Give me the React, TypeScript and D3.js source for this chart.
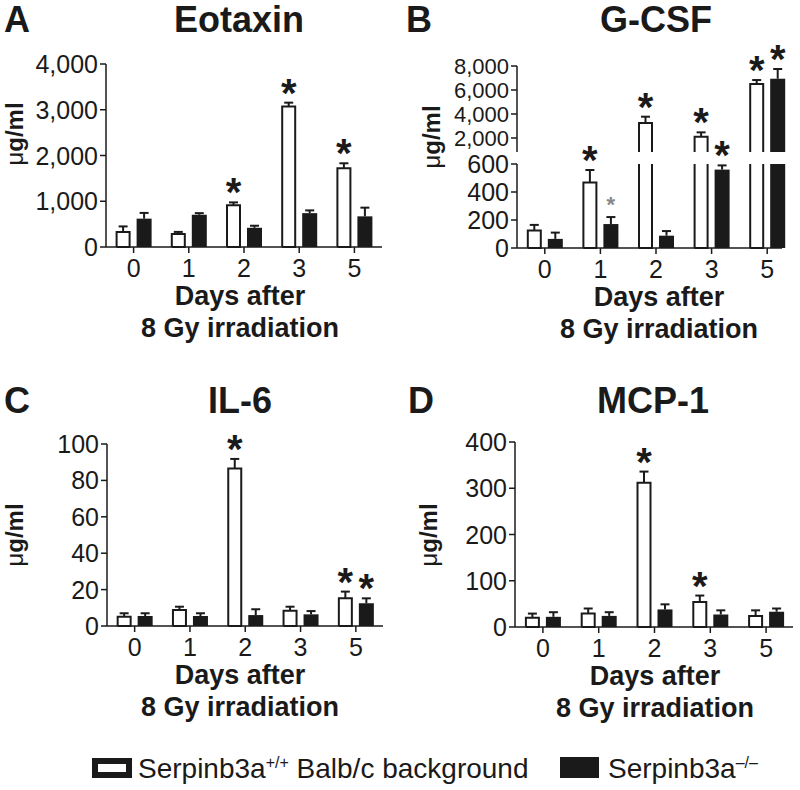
import React from "react";
import * as d3 from "d3";

const FONT = "'Liberation Sans', Arial, Helvetica, sans-serif";
const INK = "#1a1a1a";

const days = ["0", "1", "2", "3", "5"];

// Panel A – Eotaxin
const eotaxinWT = [330, 285, 910, 3070, 1720];
const eotaxinWTErr = [120, 45, 65, 85, 110];
const eotaxinKO = [620, 705, 420, 740, 670];
const eotaxinKOErr = [125, 35, 45, 60, 190];
const eotaxinStarWT = [0, 0, 1, 1, 1];
const eotaxinStarKO = [0, 0, 0, 0, 0];
const eotaxinTicks = [0, 1000, 2000, 3000, 4000];

// Panel B – G-CSF (broken axis)
const gcsfWT = [125, 467, 3250, 2110, 6500];
const gcsfWTErr = [40, 90, 525, 360, 330];
const gcsfKO = [65, 171, 88, 560, 6940];
const gcsfKOErr = [45, 50, 33, 30, 810];
const gcsfStarWT = [0, 1, 1, 1, 1];
const gcsfStarKO = [0, 2, 0, 1, 1];
const gcsfLowTicks = [0, 200, 400, 600];
const gcsfHighTicks = [2000, 4000, 6000, 8000];

// Panel C – IL-6
const il6WT = [5.1, 8.8, 86.6, 8.4, 15.2];
const il6WTErr = [1.9, 1.8, 5.2, 2.2, 3.7];
const il6KO = [5.5, 5.5, 6, 6.4, 12.5];
const il6KOErr = [1.5, 1.5, 3.2, 1.8, 2.7];
const il6StarWT = [0, 0, 1, 0, 1];
const il6StarKO = [0, 0, 0, 0, 1];
const il6Ticks = [0, 20, 40, 60, 80, 100];

// Panel D – MCP-1
const mcpWT = [20, 29, 312, 54, 24];
const mcpWTErr = [9, 11, 24, 14, 12];
const mcpKO = [22, 24, 38, 27, 33];
const mcpKOErr = [10, 8, 11, 9, 7];
const mcpStarWT = [0, 0, 1, 1, 0];
const mcpStarKO = [0, 0, 0, 0, 0];
const mcpTicks = [0, 100, 200, 300, 400];

const legendWT = "Serpinb3a";
const legendWTSup = "+/+";
const legendWTRest = " Balb/c background";
const legendKO = "Serpinb3a";
const legendKOSup = "\u2013/\u2013";

const fmt = d3.format(",");

type Seg = { scale: d3.ScaleLinear<number, number>; lo: number; hi: number; yLo: number; yHi: number; ticks: number[]; fs?: number };

type PanelProps = {
  letter: string;
  title: string;
  axisX: number;
  axisEnd: number;
  bandEnd: number;
  y0: number;
  segs: Seg[];
  wt: number[]; wtErr: number[]; ko: number[]; koErr: number[];
  starWT: number[]; starKO: number[];
  letterX: number; titleX: number; titleY: number;
  ylabX: number; ylabY: number; xlabX: number;
};

function segFor(segs: Seg[], v: number): Seg {
  for (const s of segs) if (v >= s.lo && v <= s.hi) return s;
  return segs[segs.length - 1];
}

function Panel(p: PanelProps) {
  const x = d3.scaleBand<string>().domain(days).range([p.axisX, p.bandEnd]).padding(0);
  const bw = 15;
  const off = 10.5;
  const els: React.ReactNode[] = [];

  const drawBar = (cx: number, v: number, e: number, filled: boolean, star: number, key: string) => {
    const left = cx - bw / 2;
    const right = cx + bw / 2;
    p.segs.forEach((s, si) => {
      if (v <= s.lo && si > 0) return;
      const topV = Math.min(v, s.hi);
      const yTop = s.scale(topV);
      const yBot = s.yLo;
      const closedTop = v <= s.hi;
      const closedBot = si === 0;
      if (filled) {
        els.push(<rect key={`${key}-b${si}`} x={left} y={yTop} width={bw} height={yBot - yTop} fill={INK} />);
      } else {
        const l = left + 1, r = right - 1;
        let d = `M${l},${yBot}L${l},${yTop}`;
        if (closedTop) d += `L${r},${yTop}`; else d += `M${r},${yTop}`;
        d += `L${r},${yBot}`;
        if (closedBot) d += `L${l},${yBot}`;
        els.push(<path key={`${key}-b${si}`} d={d} fill="#fff" stroke={INK} strokeWidth={2} />);
      }
    });
    const s = segFor(p.segs, v);
    const yv = s.scale(v);
    const ye = s.scale(v + e);
    els.push(<line key={`${key}-e`} x1={cx} x2={cx} y1={yv} y2={ye} stroke={INK} strokeWidth={2} />);
    els.push(<line key={`${key}-c`} x1={cx - 4.5} x2={cx + 4.5} y1={ye} y2={ye} stroke={INK} strokeWidth={2} />);
    if (star === 1) {
      els.push(<text key={`${key}-s`} x={cx} y={ye + 4} textAnchor="middle" fontSize={40} fontWeight="bold" fontFamily={FONT} fill={INK}>*</text>);
    } else if (star === 2) {
      els.push(<text key={`${key}-s`} x={cx} y={ye - 5} textAnchor="middle" fontSize={22} fontWeight="bold" fontFamily={FONT} fill="#888">*</text>);
    }
  };

  days.forEach((d, i) => {
    const c = (x(d) as number) + x.bandwidth() / 2;
    drawBar(c - off, p.wt[i], p.wtErr[i], false, p.starWT[i], `w${i}`);
    drawBar(c + off, p.ko[i], p.koErr[i], true, p.starKO[i], `k${i}`);
  });

  return (
    <g>
      <text x={p.letterX} y={p.titleY} fontSize={36} fontWeight="bold" fontFamily={FONT} fill={INK}>{p.letter}</text>
      <text x={p.titleX} y={p.titleY} textAnchor="middle" fontSize={36} fontWeight="bold" fontFamily={FONT} fill={INK}>{p.title}</text>
      {p.segs.map((s, si) => (
        <g key={`ax${si}`}>
          <line x1={p.axisX} x2={p.axisX} y1={s.yLo} y2={s.yHi} stroke={INK} strokeWidth={1.5} />
          {s.ticks.map((t) => (
            <g key={t}>
              <line x1={p.axisX - 6} x2={p.axisX} y1={s.scale(t)} y2={s.scale(t)} stroke={INK} strokeWidth={1.5} />
              <text x={p.axisX - 8} y={s.scale(t)} dy="0.36em" textAnchor="end" fontSize={s.fs ?? 25} fontFamily={FONT} fill={INK}>{fmt(t)}</text>
            </g>
          ))}
        </g>
      ))}
      <line x1={p.axisX} x2={p.axisEnd} y1={p.y0} y2={p.y0} stroke={INK} strokeWidth={1.5} />
      {days.map((d) => {
        const c = (x(d) as number) + x.bandwidth() / 2;
        return (
          <g key={`xt${d}`}>
            <line x1={c} x2={c} y1={p.y0} y2={p.y0 + 6} stroke={INK} strokeWidth={1.5} />
            <text x={c} y={p.y0 + 30} textAnchor="middle" fontSize={25} fontFamily={FONT} fill={INK}>{d}</text>
          </g>
        );
      })}
      {els}
      <text x={p.xlabX} y={p.y0 + 58} textAnchor="middle" fontSize={27} fontWeight="bold" fontFamily={FONT} fill={INK}>Days after</text>
      <text x={p.xlabX} y={p.y0 + 90} textAnchor="middle" fontSize={27} fontWeight="bold" fontFamily={FONT} fill={INK}>8 Gy irradiation</text>
      <text transform={`translate(${p.ylabX},${p.ylabY}) rotate(-90)`} textAnchor="middle" fontSize={24} fontWeight="bold" fontFamily={FONT} fill={INK}>
        <tspan fontWeight="normal">μ</tspan>g/ml
      </text>
    </g>
  );
}

function lin(domain: [number, number], range: [number, number]) {
  return d3.scaleLinear().domain(domain).range(range);
}

export default function App() {
  const aScale = lin([0, 4000], [247, 64]);
  const bLow = lin([0, 600], [248, 164]);
  const bHigh = lin([2000, 8000], [138, 66]);
  const cScale = lin([0, 100], [626, 444]);
  const dScale = lin([0, 400], [627, 442]);

  return (
    <svg width={800} height={790} style={{ position: "absolute", left: 0, top: 0, background: "#fff" }}>
      <rect width={800} height={790} fill="#fff" />
      <Panel letter="A" title="Eotaxin" axisX={106} axisEnd={382} bandEnd={382} y0={247}
        segs={[{ scale: aScale, lo: 0, hi: 4000, yLo: 247, yHi: 64, ticks: eotaxinTicks }]}
        wt={eotaxinWT} wtErr={eotaxinWTErr} ko={eotaxinKO} koErr={eotaxinKOErr}
        starWT={eotaxinStarWT} starKO={eotaxinStarKO}
        letterX={4} titleX={239} titleY={32} ylabX={23} ylabY={134} xlabX={240} />
      <Panel letter="B" title="G-CSF" axisX={517} axisEnd={782} bandEnd={795} y0={248}
        segs={[
          { scale: bLow, lo: 0, hi: 600, yLo: 248, yHi: 164, ticks: gcsfLowTicks },
          { scale: bHigh, lo: 600, hi: 8000, yLo: 152, yHi: 66, ticks: gcsfHighTicks, fs: 22 },
        ]}
        wt={gcsfWT} wtErr={gcsfWTErr} ko={gcsfKO} koErr={gcsfKOErr}
        starWT={gcsfStarWT} starKO={gcsfStarKO}
        letterX={406} titleX={656} titleY={32} ylabX={440} ylabY={137} xlabX={659} />
      <Panel letter="C" title="IL-6" axisX={107} axisEnd={383} bandEnd={383.5} y0={626}
        segs={[{ scale: cScale, lo: 0, hi: 100, yLo: 626, yHi: 444, ticks: il6Ticks }]}
        wt={il6WT} wtErr={il6WTErr} ko={il6KO} koErr={il6KOErr}
        starWT={il6StarWT} starKO={il6StarKO}
        letterX={4} titleX={240} titleY={413} ylabX={23} ylabY={535} xlabX={240} />
      <Panel letter="D" title="MCP-1" axisX={515} axisEnd={793} bandEnd={794} y0={627}
        segs={[{ scale: dScale, lo: 0, hi: 400, yLo: 627, yHi: 442, ticks: mcpTicks }]}
        wt={mcpWT} wtErr={mcpWTErr} ko={mcpKO} koErr={mcpKOErr}
        starWT={mcpStarWT} starKO={mcpStarKO}
        letterX={408} titleX={653} titleY={413} ylabX={437} ylabY={535} xlabX={655} />
      <rect x={95} y={761} width={34} height={14} fill="#fff" stroke={INK} strokeWidth={6} />
      <text x={138} y={778} fontSize={28} fontFamily={FONT} fill={INK}>
        {legendWT}
        <tspan fontSize={16} dy={-10}>{legendWTSup}</tspan>
        <tspan dy={10}>{legendWTRest}</tspan>
      </text>
      <rect x={560} y={757} width={39} height={21} fill={INK} />
      <text x={608} y={778} fontSize={28} fontFamily={FONT} fill={INK}>
        {legendKO}
        <tspan fontSize={16} dy={-10}>{legendKOSup}</tspan>
      </text>
    </svg>
  );
}
